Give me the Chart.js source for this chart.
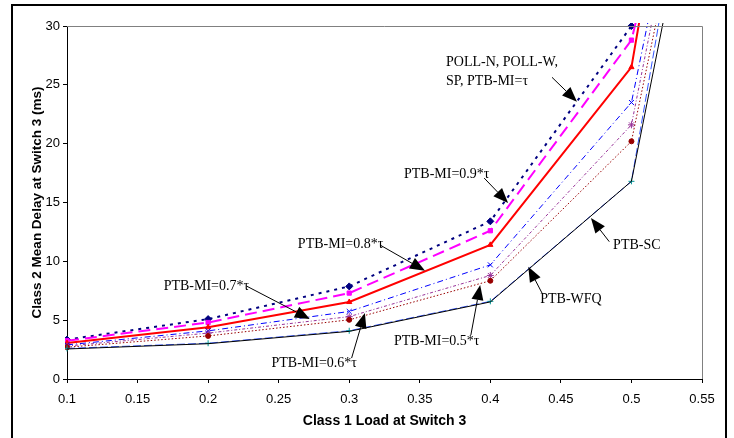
<!DOCTYPE html>
<html>
<head>
    <title>Class 2 Mean Delay at Switch 3</title>
    <script src="https://cdn.jsdelivr.net/npm/chart.js"></script>
    <style>
        html, body { margin: 0; padding: 0; background: #fff; }
        #wrap { width: 734px; height: 438px; }
    </style>
</head>
<body>
<div id="wrap"><canvas id="delayChart" width="734" height="438"></canvas></div>

<script>
    // class 1 load values (last point lies past the visible axis)
    const loads = [0.1, 0.2, 0.3, 0.4, 0.5, 0.6];

    const pollTau = [3.35, 5.09, 7.87, 13.4, 30.0, 120];
    const mi09 = [3.25, 4.8, 7.3, 12.6, 28.8, 78];
    const mi08 = [3.05, 4.4, 6.54, 11.4, 26.5, 96];
    const mi07 = [2.9, 4.09, 5.74, 9.7, 23.5, 82];
    const mi06 = [2.8, 3.9, 5.3, 8.8, 21.6, 82];
    const mi05 = [2.7, 3.66, 5.03, 8.35, 20.2, 78];
    const wfq = [2.6, 3.04, 4.1, 6.6, 16.8, 86];
    const sc = [2.55, 3.0, 4.05, 6.55, 16.8, 77];

    const xTicks = [0.1, 0.15, 0.2, 0.25, 0.3, 0.35, 0.4, 0.45, 0.5, 0.55];
    const yTicks = [0, 5, 10, 15, 20, 25, 30];

    // callout labels with arrows, in data coordinates
    const notes = [
        { lines: ['POLL-N, POLL-W,', 'SP, PTB-MI=\u03C4'], at: [0.3686, 26.88], from: [0.4437, 25.64], to: [0.4614, 23.57] },
        { lines: ['PTB-MI=0.9*\u03C4'], at: [0.3388, 17.42], from: [0.3956, 17.08], to: [0.4126, 14.96] },
        { lines: ['PTB-MI=0.8*\u03C4'], at: [0.2636, 11.47], from: [0.3218, 11.39], to: [0.3537, 9.2] },
        { lines: ['PTB-MI=0.7*\u03C4'], at: [0.1685, 7.84], from: [0.2272, 7.9], to: [0.2721, 5.1] },
        { lines: ['PTB-MI=0.6*\u03C4'], at: [0.2449, 1.33], from: [0.3017, 1.78], to: [0.3111, 5.61] },
        { lines: ['PTB-MI=0.5*\u03C4'], at: [0.3317, 3.17], from: [0.3862, 3.74], to: [0.3928, 7.99] },
        { lines: ['PTB-WFQ'], at: [0.4354, 6.8], from: [0.4366, 7.31], to: [0.4269, 9.54] },
        { lines: ['PTB-SC'], at: [0.487, 11.39], from: [0.4843, 11.67], to: [0.4713, 13.68] }
    ];

    function pts(values) {
        return loads.map((x, i) => ({ x: x, y: values[i] }));
    }

    function series(label, values, color, width, dash, marker, radius, markerColor) {
        return {
            label: label,
            data: pts(values),
            borderColor: color,
            borderWidth: width,
            borderDash: dash,
            pointStyle: marker,
            pointRadius: radius,
            pointBackgroundColor: markerColor || color,
            pointBorderColor: markerColor || color,
            pointBorderWidth: 1,
            tension: 0,
            fill: false,
            clip: { left: 2, top: 3, right: 0, bottom: 2 }
        };
    }

    const datasets = [
        series('PTB-SC', sc, '#000000', 1, [], false, 0),
        series('PTB-WFQ', wfq, '#3355ff', 1, [8, 3], 'cross', 3, '#009999'),
        series('PTB-MI=0.5*tau', mi05, '#990000', 1, [1.5, 2], 'circle', 2.5),
        series('PTB-MI=0.6*tau', mi06, '#993399', 1, [3, 2, 1, 2], 'star', 3.5),
        series('PTB-MI=0.7*tau', mi07, '#0000ff', 1, [6, 3, 1, 3], 'crossRot', 3.5),
        series('PTB-MI=0.8*tau', mi08, '#ff0000', 2, [], 'triangle', 3),
        series('PTB-MI=0.9*tau', mi09, '#ff00ff', 2, [12, 6], 'rect', 3),
        series('POLL-N, POLL-W, SP, PTB-MI=tau', pollTau, '#000080', 2, [3, 5], 'rectRot', 3.5)
    ];

    // outer frame, plot border and the callouts
    const decor = {
        id: 'decor',
        beforeDraw(chart) {
            const ctx = chart.ctx;
            ctx.save();
            ctx.fillStyle = '#fff';
            ctx.fillRect(0, 0, chart.width, chart.height);
            ctx.restore();
        },
        afterDatasetsDraw(chart) {
            const ctx = chart.ctx;
            const a = chart.chartArea;
            ctx.save();
            ctx.strokeStyle = '#808080';
            ctx.lineWidth = 1;
            ctx.beginPath();
            ctx.moveTo(a.left, a.top + 0.5);
            ctx.lineTo(a.right + 0.5, a.top + 0.5);
            ctx.lineTo(a.right + 0.5, a.bottom);
            ctx.stroke();

            ctx.strokeStyle = '#000';
            ctx.lineWidth = 2;
            ctx.strokeRect(12, 5, 714, 440);
            ctx.restore();
        },
        afterDraw(chart) {
            const ctx = chart.ctx;
            const xs = chart.scales.x;
            const ys = chart.scales.y;
            ctx.save();
            ctx.font = '14px "Liberation Serif", "Times New Roman", serif';
            ctx.fillStyle = '#000';
            ctx.strokeStyle = '#000';
            ctx.textBaseline = 'middle';
            notes.forEach(n => {
                const tx = xs.getPixelForValue(n.at[0]);
                const ty = ys.getPixelForValue(n.at[1]);
                n.lines.forEach((line, i) => ctx.fillText(line, tx, ty + i * 19));

                const x1 = xs.getPixelForValue(n.from[0]);
                const y1 = ys.getPixelForValue(n.from[1]);
                const x2 = xs.getPixelForValue(n.to[0]);
                const y2 = ys.getPixelForValue(n.to[1]);
                const ang = Math.atan2(y2 - y1, x2 - x1);
                const len = 15, half = 6;
                const bx = x2 - len * Math.cos(ang);
                const by = y2 - len * Math.sin(ang);
                ctx.lineWidth = 1;
                ctx.beginPath();
                ctx.moveTo(x1, y1);
                ctx.lineTo(bx, by);
                ctx.stroke();
                ctx.beginPath();
                ctx.moveTo(x2, y2);
                ctx.lineTo(bx + half * Math.sin(ang), by - half * Math.cos(ang));
                ctx.lineTo(bx - half * Math.sin(ang), by + half * Math.cos(ang));
                ctx.closePath();
                ctx.fill();
            });
            ctx.restore();
        }
    };

    new Chart(document.getElementById('delayChart').getContext('2d'), {
        type: 'line',
        data: { datasets: datasets },
        plugins: [decor],
        options: {
            responsive: false,
            animation: false,
            layout: { padding: { left: 0, top: 26, right: 32, bottom: 0 } },
            plugins: {
                legend: { display: false },
                tooltip: { enabled: false }
            },
            scales: {
                x: {
                    type: 'linear',
                    min: 0.1,
                    max: 0.55,
                    afterBuildTicks: s => { s.ticks = xTicks.map(v => ({ value: v })); },
                    afterFit: s => { s.height = 59; },
                    grid: { drawOnChartArea: false, drawTicks: true, tickLength: 4, color: '#000' },
                    border: { color: '#000', width: 1 },
                    ticks: {
                        color: '#000',
                        padding: 9,
                        maxRotation: 0,
                        font: { family: '"Liberation Sans", Arial, sans-serif', size: 13 },
                        callback: v => String(v)
                    },
                    title: {
                        display: true,
                        text: 'Class 1 Load at Switch 3',
                        color: '#000',
                        padding: { top: 0, bottom: 8 },
                        font: { family: '"Liberation Sans", Arial, sans-serif', size: 14, weight: 'bold' }
                    }
                },
                y: {
                    min: 0,
                    max: 30,
                    afterBuildTicks: s => { s.ticks = yTicks.map(v => ({ value: v })); },
                    afterFit: s => { s.width = 67; },
                    grid: { drawOnChartArea: false, drawTicks: true, tickLength: 4, color: '#000' },
                    border: { color: '#000', width: 1 },
                    ticks: {
                        color: '#000',
                        padding: 3,
                        font: { family: '"Liberation Sans", Arial, sans-serif', size: 13 }
                    },
                    title: {
                        display: true,
                        text: 'Class 2 Mean Delay at Switch 3 (ms)',
                        color: '#000',
                        padding: { top: 29, bottom: 0 },
                        font: { family: '"Liberation Sans", Arial, sans-serif', size: 13.5, weight: 'bold' }
                    }
                }
            }
        }
    });
</script>

</body>
</html>
